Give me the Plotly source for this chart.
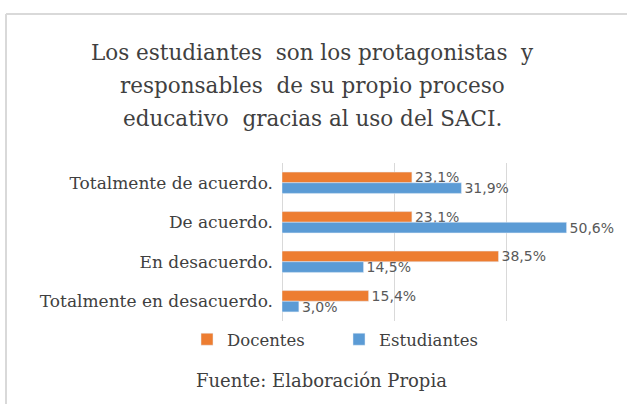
import plotly.graph_objects as go

categories = ["Totalmente de acuerdo.", "De acuerdo.", "En desacuerdo.", "Totalmente en desacuerdo."]
docentes = [23.1, 23.1, 38.5, 15.4]
estudiantes = [31.9, 50.6, 14.5, 3.0]
series_names = ["Docentes", "Estudiantes"]
title_lines = ["Los estudiantes  son los protagonistas  y",
               "responsables  de su propio proceso",
               "educativo  gracias al uso del SACI."]
source_text = "Fuente: Elaboración Propia"

def fmt(v):
    return f"{v:.1f}".replace(".", ",") + "%"

W, H = 627, 404
L, R, T, B = 282, 7, 163, 83
pw, ph = W - L - R, H - T - B

def px_x(px):
    return (px - L) / pw

def px_y(py):
    return (H - B - py) / ph

label_font = dict(family="DejaVu Sans, Liberation Sans, sans-serif", size=14, color="#595959")
serif = "DejaVu Serif, Liberation Serif, serif"

fig = go.Figure()
fig.add_trace(go.Bar(
    y=categories, x=docentes, name=series_names[0], orientation="h",
    marker=dict(color="#ED7D31"),
    text=[fmt(v) for v in docentes], textposition="outside", constraintext="none",
    textfont=label_font, cliponaxis=False,
))
fig.add_trace(go.Bar(
    y=categories, x=estudiantes, name=series_names[1], orientation="h",
    marker=dict(color="#5B9BD5"),
    text=[fmt(v) for v in estudiantes], textposition="outside", constraintext="none",
    textfont=label_font, cliponaxis=False,
))

annotations = []
for line, py in zip(title_lines, [52, 85, 118]):
    annotations.append(dict(
        text=line, xref="paper", yref="paper", x=px_x(312), y=px_y(py),
        xanchor="center", yanchor="middle", showarrow=False,
        font=dict(family=serif, size=21.5, color="#404040"),
    ))
annotations.append(dict(
    text=source_text, xref="paper", yref="paper", x=px_x(321), y=px_y(380),
    xanchor="center", yanchor="middle", showarrow=False,
    font=dict(family=serif, size=18, color="#404040"),
))

shapes = [
    dict(type="line", xref="paper", yref="paper", x0=px_x(6), x1=px_x(W + 5),
         y0=px_y(14), y1=px_y(14), line=dict(color="#d9d9d9", width=2)),
    dict(type="line", xref="paper", yref="paper", x0=px_x(6), x1=px_x(6),
         y0=px_y(14), y1=px_y(H + 5), line=dict(color="#d9d9d9", width=2)),
]

fig.update_layout(
    width=W, height=H,
    margin=dict(l=L, r=R, t=T, b=B),
    paper_bgcolor="white", plot_bgcolor="white",
    barmode="group", bargap=0.46, bargroupgap=0,
    showlegend=True,
    legend=dict(orientation="h", x=px_x(187), y=px_y(322), xanchor="left", yanchor="top",
                font=dict(family=serif, size=16.5, color="#404040"),
                itemwidth=30, entrywidth=107, entrywidthmode="pixels",
                bgcolor="rgba(0,0,0,0)"),
    xaxis=dict(range=[0, 60.1], tickvals=[0, 20, 40, 60], showgrid=True, gridcolor="#d9d9d9", gridwidth=1,
               showticklabels=False, zeroline=True, zerolinecolor="#d9d9d9", zerolinewidth=1,
               showline=False, fixedrange=True),
    yaxis=dict(autorange="reversed", showgrid=False, showline=False, ticks="",
               ticklabelstandoff=8, automargin=False,
               tickfont=dict(family=serif, size=17, color="#404040")),
    annotations=annotations,
    shapes=shapes,
)

fig.write_html("out.html", config={"displayModeBar": False},
               post_script="document.body.style.margin='0';")
